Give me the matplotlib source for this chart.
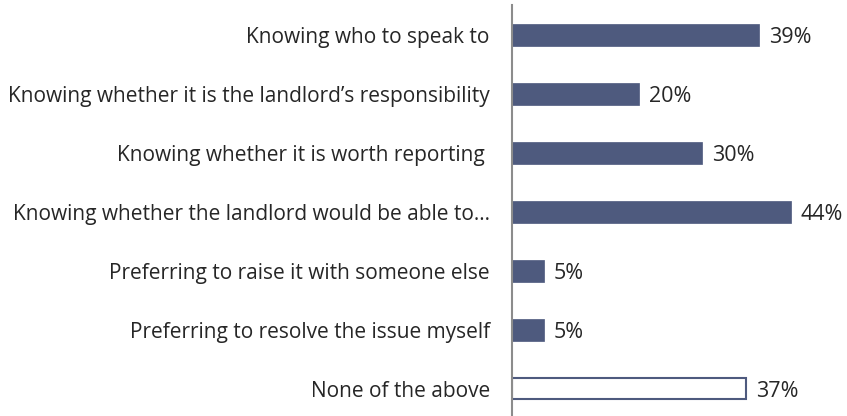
import matplotlib.pyplot as plt

plt.rcParams['font.family'] = ['Open Sans', 'DejaVu Sans']

labels = [
    "Knowing who to speak to",
    "Knowing whether it is the landlord\u2019s responsibility",
    "Knowing whether it is worth reporting ",
    "Knowing whether the landlord would be able to\u2026",
    "Preferring to raise it with someone else",
    "Preferring to resolve the issue myself",
    "None of the above",
]
values = [39, 20, 30, 44, 5, 5, 37]
hollow = [False, False, False, False, False, False, True]

bar_col = '#4e5a7e'
txt_col = '#262626'

fig = plt.figure(figsize=(8.47, 4.16), dpi=100)
ax = fig.add_axes([512 / 847, 0, 1 - 512 / 847, 411 / 416])

pos = list(range(len(values)))
for i, v in enumerate(values):
    if hollow[i]:
        ax.barh(i, v, height=0.36, color='white', edgecolor=bar_col, linewidth=1.5)
    else:
        ax.barh(i, v, height=0.36, color=bar_col, edgecolor=bar_col, linewidth=0.5)
    ax.text(v + 1.6, i + 0.04, f"{v}%", va='center', ha='left',
            fontsize=15.5, color=txt_col)

ax.set_xlim(0, 52.9)
ax.set_ylim(6.46, -0.51)
ax.set_yticks(pos)
ax.set_yticklabels(labels, fontsize=15, color=txt_col)
ax.tick_params(axis='y', length=0, pad=16)
ax.set_xticks([])

for s in ['top', 'right', 'bottom']:
    ax.spines[s].set_visible(False)
ax.spines['left'].set_color('#8c8c8c')
ax.spines['left'].set_linewidth(1.5)

fig.savefig('out.png', dpi=100)
